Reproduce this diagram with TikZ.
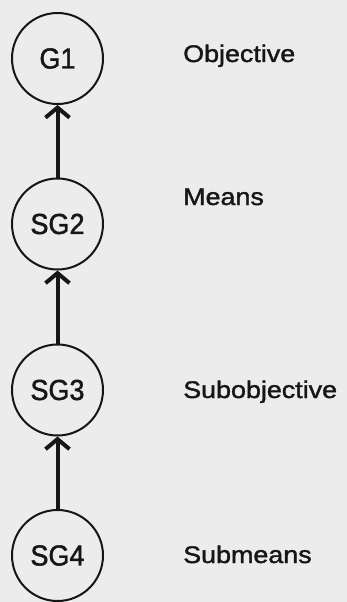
\documentclass[tikz,border=0pt]{standalone}
\usepackage{fontspec}
\usetikzlibrary{arrows.meta}
\newfontfamily\goalfont[FakeStretch=0.93,FakeBold=1.5]{Liberation Sans}
\newfontfamily\rolefont[FakeStretch=1.12,FakeBold=1.5]{Liberation Sans}
\definecolor{paper}{RGB}{236,236,236}
\definecolor{ink}{RGB}{22,22,22}
\begin{document}
\begin{tikzpicture}[x=1pt,y=-1pt,
  goal/.style={circle,draw=ink,line width=2pt,minimum size=91pt,inner sep=0pt,
    text=ink,font=\goalfont\fontsize{29}{29}\selectfont},
  role/.style={anchor=base west,inner sep=0pt,text=ink,
    font=\rolefont\fontsize{24}{24}\selectfont},
  link/.style={draw=ink,line width=4pt,
    -{Straight Barb[length=10pt,width=24pt,line width=4pt]}}]
  % page
  \fill[paper] (0,0) rectangle (347,602);
  \useasboundingbox (0,0) rectangle (347,602);
  % goal chain
  \node[goal] (g1) at (57.5,58.5) {G1};
  \node[goal] (sg2) at (57.5,224) {SG2};
  \node[goal] (sg3) at (57.5,390) {SG3};
  \node[goal] (sg4) at (57.5,555.5) {SG4};
  % means-ends links
  \draw[link] (sg2) -- (g1);
  \draw[link] (sg3) -- (sg2);
  \draw[link] (sg4) -- (sg3);
  % role labels
  \node[role] (lobj) at (183,62) {Objective};
  \node[role] (lmeans) at (183,205) {Means};
  \node[role] (lsubobj) at (183,398) {Subobjective};
  \node[role] (lsubmeans) at (183,563) {Submeans};
\end{tikzpicture}
\end{document}
